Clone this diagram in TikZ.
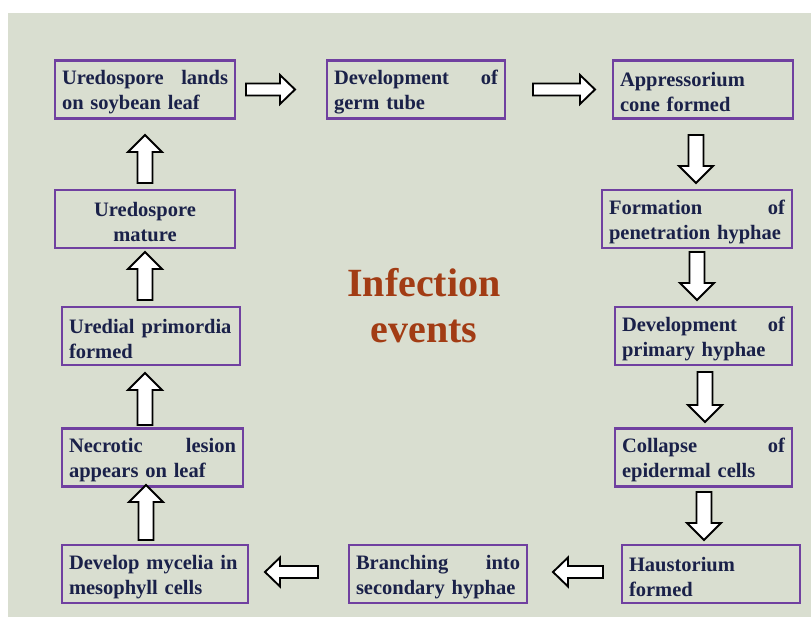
\documentclass[tikz,border=0pt]{standalone}
\usepackage{fontspec}
\setmainfont{Liberation Serif}
\definecolor{bgc}{HTML}{D9DED0}
\definecolor{boxc}{HTML}{7040A0}
\definecolor{navy}{HTML}{1A2149}
\definecolor{titlec}{HTML}{A23C14}
\tikzset{
  box/.style={draw=boxc, line width=2.5pt, rectangle, minimum height=58pt,
    inner xsep=7pt, inner ysep=0pt, align=left, text=navy,
    font=\fontsize{20.5}{25}\selectfont\bfseries,
    execute at begin node={\rule{0pt}{20pt}}},
  arr/.style={draw=black, line width=1.9pt, fill=white, line join=miter},
  pics/harr/.style={code={\draw[arr] (0,-6)--(#1-15,-6)--(#1-15,-14.5)--(#1,0)--(#1-15,14.5)--(#1-15,6)--(0,6)--cycle;}},
  pics/varr/.style={code={\draw[arr] (0,-7.5)--(#1-17,-7.5)--(#1-17,-17)--(#1,0)--(#1-17,17)--(#1-17,7.5)--(0,7.5)--cycle;}},
}
\begin{document}
\begin{tikzpicture}[x=1pt,y=-1pt]
\useasboundingbox (0,0) rectangle (811,617);
\fill[white] (0,0) rectangle (811,617);
\fill[bgc] (8,13) rectangle (811,617);

% boxes
\node[box, text width=166pt] (b1) at (145,89.5) {Uredospore\hfill lands\\on soybean leaf};
\node[box, text width=164pt] (b2) at (416,89.5) {Development\hfill of\\germ tube};
\node[box, text width=166pt] (b3) at (703,89.5) {Appressorium\\cone formed};
\node[box, text width=176pt] (b4) at (697,219) {Formation\hfill of\\penetration hyphae};
\node[box, text width=163pt] (b5) at (703.5,336) {Development\hfill of\\primary hyphae};
\node[box, text width=163pt] (b6) at (703.5,457.5) {Collapse\hfill of\\epidermal cells};
\node[box, text width=164pt] (b7) at (711,574) {Haustorium\\formed};
\node[box, text width=164pt] (b8) at (438,574) {Branching\hfill into\\secondary hyphae};
\node[box, text width=172pt] (b9) at (155,574) {Develop mycelia in\\mesophyll cells};
\node[box, text width=167pt] (b10) at (152.5,457.5) {Necrotic\hfill lesion\\appears on leaf};
\node[box, text width=164pt] (b11) at (151,336) {Uredial primordia\\formed};
\node[box, text width=166pt, align=center] (b12) at (145,219) {Uredospore\\mature};

% title
\node[text=titlec, align=center, font=\fontsize{40}{46}\selectfont\bfseries] (title) at (424,306) {Infection\\events};

% arrows
\pic at (246,89.5) {harr=49};
\pic at (533,89.5) {harr=62};
\pic[rotate=-90] at (696,135) {varr=48};
\pic[rotate=-90] at (697,252) {varr=48};
\pic[rotate=-90] at (705,372) {varr=50};
\pic[rotate=-90] at (704,492) {varr=48};
\pic[rotate=180] at (603,572) {harr=50};
\pic[rotate=180] at (318,572) {harr=53};
\pic[rotate=90] at (146,540) {varr=55};
\pic[rotate=90] at (145,425) {varr=52};
\pic[rotate=90] at (145,300) {varr=48};
\pic[rotate=90] at (145,183) {varr=48};
\end{tikzpicture}
\end{document}
